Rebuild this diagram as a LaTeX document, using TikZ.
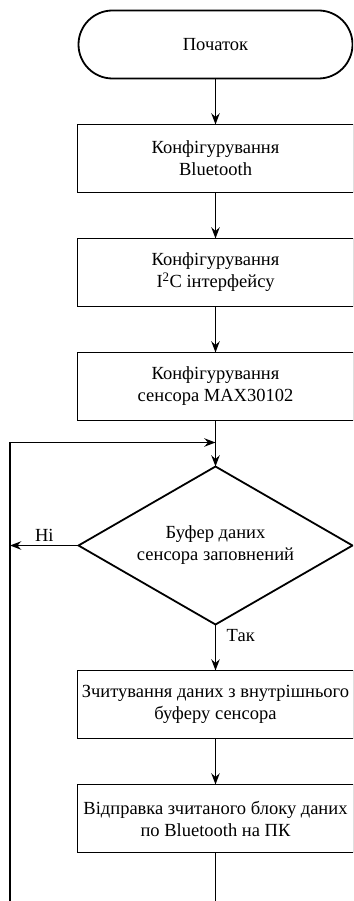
\documentclass[tikz,border=0pt]{standalone}
\usepackage{fontspec}
\setmainfont{Liberation Serif}
\usetikzlibrary{shapes.geometric,positioning,arrows.meta}
\tikzset{
  startstop/.style={draw,rectangle,rounded corners=34pt,minimum width=274pt,minimum height=68pt,align=center,outer sep=0pt},
  process/.style={draw,rectangle,minimum width=276pt,minimum height=68pt,align=center,inner sep=2pt,outer sep=0pt},
  decision/.style={draw,diamond,aspect=1.72,minimum width=274pt,minimum height=158pt,align=center,inner sep=0pt,outer sep=0pt},
  flowline/.style={->,>=Stealth},
}
\begin{document}
\begin{tikzpicture}[x=1pt,y=1pt,line width=1.8pt,node distance=46pt,font=\fontsize{18.5}{22}\selectfont]
\useasboundingbox (0,0) rectangle (353,-901);
\clip (0,0) rectangle (353,-901);

\node[startstop] (start) at (215.5,-44.5) {Початок};
\node[process,below=of start] (bt) {Конфігурування\\Bluetooth};
\node[process,below=of bt] (i2c) {Конфігурування\\I\textsuperscript{2}C інтерфейсу};
\node[process,below=of i2c] (cfg) {Конфігурування\\сенсора MAX30102};
\node[decision,below=of cfg] (buf) {Буфер даних\\сенсора заповнений};
\node[process,below=of buf] (read) {Зчитування даних з внутрішнього\\буферу сенсора};
\node[process,below=of read] (send) {Відправка зчитаного блоку даних\\по Bluetooth на ПК};

\coordinate[below=22pt of cfg] (join);
\coordinate[below=60pt of send] (down);
\coordinate (rail) at (10,-880);

\draw[flowline] (start) -- (bt);
\draw[flowline] (bt) -- (i2c);
\draw[flowline] (i2c) -- (cfg);
\draw[flowline] (cfg) -- (buf);
\draw[flowline] (buf) -- (read) node[pos=0.25,right=7pt] {Так};
\draw[flowline] (read) -- (send);
\draw[flowline] (buf.west) -- (buf.west -| rail) node[pos=0.5,above,inner sep=3pt] {Ні};
\draw[flowline] (send) -- (down) -| (rail) |- (join);

\end{tikzpicture}
\end{document}
